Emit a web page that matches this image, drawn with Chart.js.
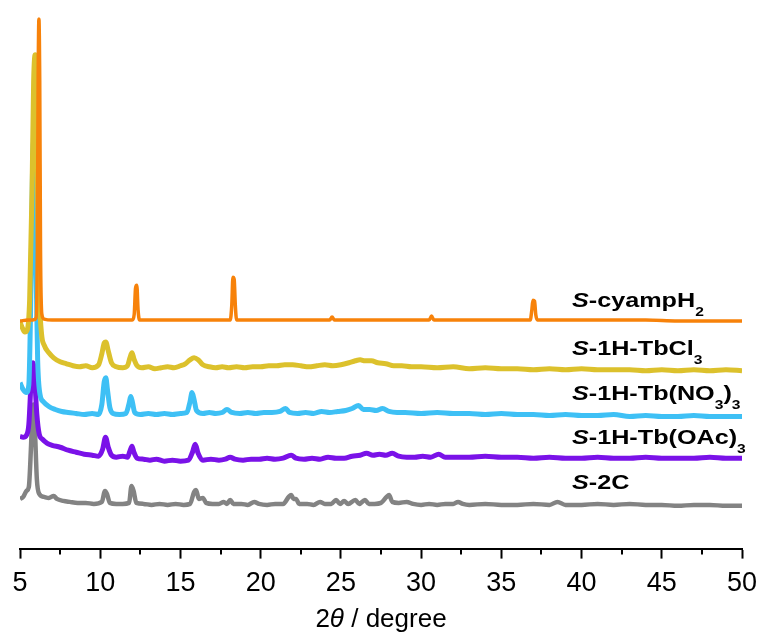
<!DOCTYPE html>
<html>
<head>
<meta charset="utf-8">
<script src="https://cdn.jsdelivr.net/npm/chart.js@4.4.0/dist/chart.umd.min.js"></script>
<style>
  html, body { margin: 0; padding: 0; background: #fff; }
  #wrap { width: 763px; height: 639px; }
</style>
</head>
<body>
<div id="wrap"><canvas id="xrd"></canvas></div>
<script>
// 2theta (degree) vs offset intensity (a.u., stacked)
var cyampH2 = [
  [5.0,229],[5.5,230],[5.8,230],[6.0,232],[6.08,300],[6.13,470],[6.18,533],[6.23,470],[6.28,300],[6.36,236],
  [6.5,231],[7,230],[8,230],[9,230],[10,230],[11,230],[12.0,230],[12.12,236],[12.2,262],[12.28,265],
  [12.36,240],[12.45,230],[13,230],[14,230],[15,230],[16,230],[17,230],[18.1,230],[18.2,245],[18.27,273],
  [18.35,271],[18.42,245],[18.5,230],[19,230],[20,230],[21,230],[22,230],[23,230],[24.3,230],[24.45,233],
  [24.6,230],[25,230],[26,230],[27,230],[28,230],[29,230],[30.5,230],[30.65,234],[30.8,230],[31,230],
  [32,230],[33,230],[34,230],[35,230],[36,230],[36.8,230],[36.9,240],[36.97,250],[37.07,249],[37.15,235],
  [37.25,230],[38,230],[40,230],[42,230],[44,230],[46,229],[48,229],[50,229]
];
var tbCl3 = [
  [5.0,228],[5.15,222],[5.3,218],[5.45,220],[5.6,250],[5.75,360],[5.85,470],[5.95,497],[6.03,440],[6.12,330],
  [6.22,250],[6.35,215],[6.5,205],[6.8,197],[7.1,192],[7.5,188],[7.9,186],[8.3,184],[8.7,183],[9.1,184],
  [9.5,182],[9.9,185],[10.1,196],[10.25,207],[10.35,208],[10.5,199],[10.7,187],[11.0,183],[11.4,182],[11.7,184],
  [11.85,192],[11.98,197],[12.1,191],[12.3,184],[12.6,182],[13.0,183],[13.4,181],[13.8,182],[14.2,183],[14.6,182],
  [15.0,184],[15.3,186],[15.6,190],[15.85,192],[16.1,190],[16.4,185],[16.8,183],[17.2,182],[17.6,183],[18.0,182],
  [18.5,183],[19.0,182],[19.5,183],[20.0,183],[20.5,184],[21.0,184],[21.5,185],[22.0,185],[22.5,184],[23.0,183],
  [23.5,184],[24.0,185],[24.5,184],[25.0,185],[25.5,187],[25.9,189],[26.2,190],[26.5,189],[26.9,189],[27.3,187],
  [27.8,186],[28.3,184],[28.8,184],[29.4,183],[30.0,183],[31,182],[32,183],[33,181],[34,182],[35,181],
  [36,181],[37,180],[38,181],[39,180],[40,181],[41,180],[42,180],[43,180],[44,179],[45,180],
  [46,179],[47,180],[48,179],[49,180],[50,179]
];
var tbNO3 = [
  [5.0,167],[5.2,160],[5.4,157],[5.55,165],[5.68,260],[5.78,380],[5.85,410],[5.92,380],[6.0,280],[6.1,190],
  [6.25,155],[6.45,148],[6.8,143],[7.2,140],[7.6,138],[8.0,137],[8.5,136],[9.0,135],[9.5,136],[9.9,135],
  [10.1,145],[10.25,168],[10.35,172],[10.45,160],[10.6,142],[10.8,136],[11.2,135],[11.6,136],[11.8,146],[11.9,153],
  [12.0,148],[12.15,137],[12.5,135],[13,136],[13.5,135],[14,136],[14.5,135],[15,136],[15.4,137],[15.6,148],
  [15.72,157],[15.85,150],[16.0,139],[16.4,136],[16.8,137],[17.2,136],[17.6,137],[17.9,140],[18.2,137],[18.7,136],
  [19.2,137],[19.7,136],[20.2,137],[20.7,137],[21.2,138],[21.55,141],[21.8,137],[22.3,136],[22.8,137],[23.3,136],
  [23.8,138],[24.3,137],[24.8,138],[25.3,139],[25.7,141],[26.1,144],[26.4,140],[26.8,140],[27.2,139],[27.6,141],
  [28.0,138],[28.5,137],[29,137],[30,136],[31,137],[32,136],[33,136],[34,135],[35,136],[36,135],
  [37,135],[38,134],[39,135],[40,134],[41,134],[42,135],[43,133],[44,134],[45,133],[46,133],
  [47,134],[48,133],[49,133],[50,133]
];
var tbOAc = [
  [5.0,113],[5.2,112],[5.4,114],[5.55,125],[5.7,170],[5.82,187],[5.92,170],[6.05,135],[6.2,115],[6.4,110],
  [6.7,106],[7.0,104],[7.5,102],[8.0,99],[8.5,97],[9.0,95],[9.5,94],[9.9,93],[10.15,100],[10.33,112],
  [10.5,102],[10.7,94],[11.0,92],[11.4,93],[11.7,92],[11.85,98],[11.98,103],[12.1,97],[12.3,91],[12.7,90],
  [13.1,89],[13.5,90],[14,88],[14.5,89],[15,88],[15.5,89],[15.75,97],[15.92,105],[16.1,96],[16.4,89],
  [16.9,90],[17.4,89],[17.8,90],[18.1,92],[18.4,90],[18.9,89],[19.4,90],[19.9,90],[20.4,91],[20.9,90],
  [21.4,91],[21.9,94],[22.2,91],[22.7,90],[23.2,91],[23.7,90],[24.2,92],[24.7,91],[25.2,91],[25.7,93],
  [26.2,94],[26.6,96],[27.0,94],[27.4,95],[27.8,94],[28.2,96],[28.6,93],[29.1,92],[29.6,92],[30.1,93],
  [30.6,92],[31.1,95],[31.5,92],[32,92],[33,92],[34,93],[35,92],[36,92],[37,91],[38,92],
  [39,91],[40,91],[41,92],[42,91],[43,91],[44,92],[45,91],[46,91],[47,91],[48,92],[49,91],[50,91]
];
var s2C = [
  [5.0,50],[5.2,52],[5.4,58],[5.55,62],[5.68,100],[5.78,140],[5.85,145],[5.93,120],[6.05,70],[6.2,55],
  [6.5,52],[6.8,51],[7.1,53],[7.3,50],[7.7,48],[8.1,47],[8.6,46],[9.1,46],[9.6,45],[10.1,47],
  [10.3,58],[10.42,55],[10.6,46],[11.0,45],[11.4,45],[11.8,46],[11.95,63],[12.08,58],[12.25,46],[12.7,45],
  [13.2,44],[13.7,45],[14.2,44],[14.7,45],[15.2,44],[15.6,45],[15.85,57],[15.97,59],[16.15,50],[16.4,51],
  [16.6,46],[17,45],[17.4,45],[17.7,47],[17.9,45],[18.1,49],[18.3,45],[18.8,45],[19.2,44],[19.6,47],
  [19.9,45],[20.4,44],[20.9,45],[21.4,45],[21.75,52],[21.9,54],[22.05,50],[22.2,50],[22.4,45],[22.9,45],
  [23.3,44],[23.7,47],[24.0,45],[24.4,45],[24.7,49],[24.95,45],[25.2,48],[25.45,45],[25.9,49],[26.15,45],
  [26.5,49],[26.75,45],[27.1,45],[27.5,46],[27.85,52],[28.0,54],[28.2,47],[28.6,46],[29.1,47],[29.5,45],
  [30,44],[30.5,45],[31,44],[31.5,45],[32,45],[32.3,47],[32.6,45],[33,44],[34,45],[35,44],
  [36,44],[37,45],[38,44],[38.5,47],[39,44],[40,44],[41,45],[42,44],[43,45],[44,44],
  [45,44],[46,43],[47,44],[48,44],[49,43],[50,43]
];

var xTicks = [5, 10, 15, 20, 25, 30, 35, 40, 45, 50];
var minorTicks = [7.5, 12.5, 17.5, 22.5, 27.5, 32.5, 37.5, 42.5, 47.5];

// label text runs + where they sit (x in degree, y in a.u. of baseline)
var seriesLabels = [
  { at: [39.4, 243], runs: [['S', 'i'], ['-cyampH', ''], ['2', 's']] },
  { at: [39.4, 195], runs: [['S', 'i'], ['-1H-TbCl', ''], ['3', 's']] },
  { at: [39.4, 150], runs: [['S', 'i'], ['-1H-Tb(NO', ''], ['3', 's'], [')', ''], ['3', 's']] },
  { at: [39.4, 105], runs: [['S', 'i'], ['-1H-Tb(OAc)', ''], ['3', 's']] },
  { at: [39.4, 60],  runs: [['S', 'i'], ['-2C', '']] }
];

const toXY = (arr) => arr.map(p => ({ x: p[0], y: p[1] }));

function line(data, color, w) {
  return {
    data: toXY(data),
    borderColor: color,
    borderWidth: w,
    pointRadius: 0,
    cubicInterpolationMode: 'monotone',
    fill: false
  };
}

const labelPlugin = {
  id: 'xrdText',
  afterDraw(chart) {
    const ctx = chart.ctx;
    const xs = chart.scales.x;
    const ys = chart.scales.y;
    ctx.save();
    ctx.fillStyle = '#000';
    ctx.textBaseline = 'alphabetic';
    ctx.textAlign = 'left';

    // minor ticks
    ctx.strokeStyle = '#000';
    ctx.lineWidth = 2;
    minorTicks.forEach(v => {
      const px = Math.round(xs.getPixelForValue(v));
      ctx.beginPath();
      ctx.moveTo(px, xs.top);
      ctx.lineTo(px, xs.top + 6);
      ctx.stroke();
    });

    // series labels
    seriesLabels.forEach(l => {
      ctx.save();
      ctx.translate(xs.getPixelForValue(l.at[0]), ys.getPixelForValue(l.at[1]));
      ctx.scale(1.2, 1);
      let cx = 0;
      l.runs.forEach(r => {
        if (r[1] === 's') {
          ctx.font = 'bold 13px "Liberation Sans", Arial, sans-serif';
          ctx.fillText(r[0], cx, 9);
        } else {
          ctx.font = (r[1] === 'i' ? 'italic ' : '') + 'bold 21px "Liberation Sans", Arial, sans-serif';
          ctx.fillText(r[0], cx, 0);
        }
        cx += ctx.measureText(r[0]).width;
      });
      ctx.restore();
    });

    // axis title: 2θ / degree
    const parts = [['2', ''], ['\u03b8', 'italic '], [' / degree', '']];
    let w = 0;
    parts.forEach(p => { ctx.font = p[1] + '26px "Liberation Sans", Arial, sans-serif'; w += ctx.measureText(p[0]).width; });
    let tx = (chart.chartArea.left + chart.chartArea.right) / 2 - w / 2;
    parts.forEach(p => {
      ctx.font = p[1] + '26px "Liberation Sans", Arial, sans-serif';
      ctx.fillText(p[0], tx, 627);
      tx += ctx.measureText(p[0]).width;
    });
    ctx.restore();
  }
};

const xrd = new Chart('xrd', {
  type: 'line',
  data: {
    datasets: [
      line(cyampH2, '#f7820a', 3.5),
      line(tbCl3, '#dcc12c', 5),
      line(tbNO3, '#3ec0f5', 5),
      line(tbOAc, '#7a12e8', 5),
      line(s2C, '#838383', 4.5)
    ]
  },
  options: {
    responsive: true,
    maintainAspectRatio: false,
    animation: false,
    layout: { padding: { left: 20, right: 21, top: 12, bottom: 30 } },
    plugins: {
      legend: { display: false },
      tooltip: { enabled: false }
    },
    scales: {
      x: {
        type: 'linear',
        min: 5,
        max: 50,
        afterBuildTicks: (s) => { s.ticks = xTicks.map(v => ({ value: v })); },
        afterFit: (s) => { s.paddingLeft = 0; s.paddingRight = 0; },
        border: { display: true, color: '#000', width: 2 },
        grid: { drawOnChartArea: false, drawTicks: true, tickLength: 10, tickColor: '#000', tickWidth: 2 },
        ticks: {
          color: '#000',
          padding: 9,
          maxRotation: 0,
          font: { family: '"Liberation Sans", Arial, sans-serif', size: 27 }
        }
      },
      y: {
        display: false,
        min: 0,
        max: 540
      }
    }
  },
  plugins: [labelPlugin]
});
</script>
</body>
</html>
